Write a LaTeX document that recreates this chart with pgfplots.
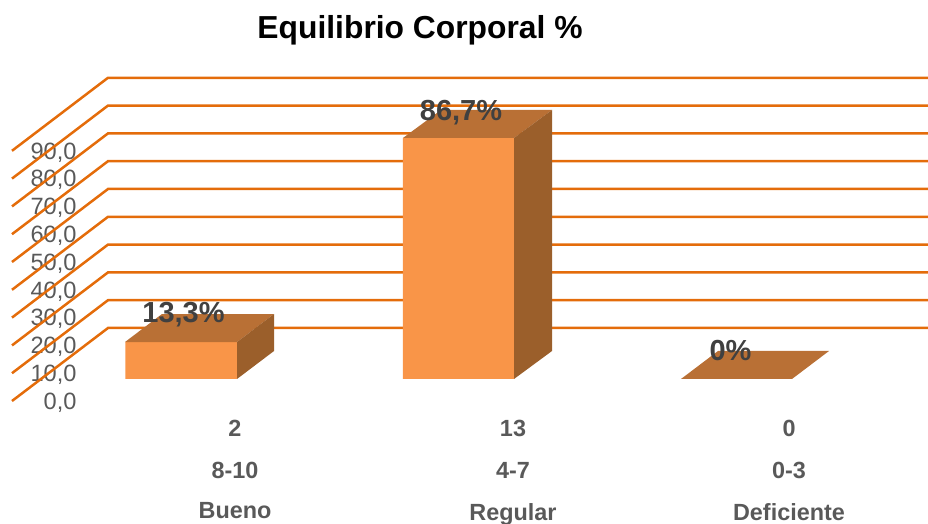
\documentclass[border=0pt]{standalone}
\usepackage{pgfplots}
\pgfplotsset{compat=1.18}
\usepackage{fontspec}
\setmainfont{Liberation Sans}
\definecolor{gridor}{HTML}{E46C0A}
\definecolor{barfront}{HTML}{F99548}
\definecolor{bartop}{HTML}{B97035}
\definecolor{barside}{HTML}{9B5F2B}
\definecolor{tickgrey}{HTML}{595959}
\definecolor{lblgrey}{HTML}{404040}
\begin{document}
\begin{tikzpicture}
\useasboundingbox (0,0) rectangle (928pt,524pt);
\begin{axis}[
  at={(0,0)},anchor=south west,
  scale only axis,width=928pt,height=524pt,
  xmin=0,xmax=928,ymin=-44.24,ymax=144.24,
  axis line style={draw=none},major tick length=0pt,
  title={\fontsize{31.8}{36}\selectfont\bfseries Equilibrio Corporal \%},
  title style={at={(0.4526,0.9313)},anchor=center,text=black},
  ytick={0,10,20,30,40,50,60,70,80,90},
  yticklabel style={anchor=east,xshift=80pt,yshift=-1.5pt,text=tickgrey,font=\fontsize{23.6}{26}\selectfont,
    /pgf/number format/.cd,fixed,fixed zerofill,precision=1,use comma,assume math mode=true},
  xtick={235,513,789},
  xticklabels={{2\\[14pt]8-10\\[14pt]\raisebox{2pt}{Bueno}},{13\\[14pt]4-7\\[14pt]Regular},{0\\[14pt]0-3\\[14pt]Deficiente}},
  xticklabel style={anchor=north,yshift=107.4pt,align=center,text=tickgrey,font=\fontsize{23.4}{28}\selectfont\bfseries},
]
\foreach \v in {0,10,...,90}{
  \edef\tmp{\noexpand\addplot[gridor,line width=2.5pt,forget plot] coordinates {(12,\v) (108,\the\numexpr\v+26\relax.26) (928,\the\numexpr\v+26\relax.26)};}
  \tmp
}
\end{axis}
\begin{axis}[
  at={(0,0)},anchor=south west,
  scale only axis,width=928pt,height=524pt,
  xmin=0,xmax=928,ymin=-52.16,ymax=136.33,
  hide axis,
]
% front faces
\addplot[ybar,bar width=111.5pt,fill=barfront,draw=none] coordinates {(181,13.3) (458.5,86.7) (736.5,0)};
% top faces
\addplot[fill=bartop,draw=none] coordinates {(125,13.3) (237,13.3) (274,23.37) (162,23.37)} -- cycle;
\addplot[fill=bartop,draw=none] coordinates {(403,86.7) (514,86.7) (552,96.77) (441,96.77)} -- cycle;
\addplot[fill=bartop,draw=none] coordinates {(681,0) (792,0) (829,10.07) (718,10.07)} -- cycle;
% side faces
\addplot[fill=barside,draw=none] coordinates {(237,0) (274,10.07) (274,23.37) (237,13.3)} -- cycle;
\addplot[fill=barside,draw=none] coordinates {(514,0) (552,10.07) (552,96.77) (514,86.7)} -- cycle;
\node[text=lblgrey,font=\fontsize{29}{32}\selectfont\bfseries] at (axis cs:183.5,23.2) {13,3\%};
\node[text=lblgrey,font=\fontsize{29}{32}\selectfont\bfseries] at (axis cs:461,95.9) {86,7\%};
\node[text=lblgrey,font=\fontsize{29}{32}\selectfont\bfseries] at (axis cs:730.5,10.4) {0\%};
\end{axis}
\end{tikzpicture}
\end{document}
